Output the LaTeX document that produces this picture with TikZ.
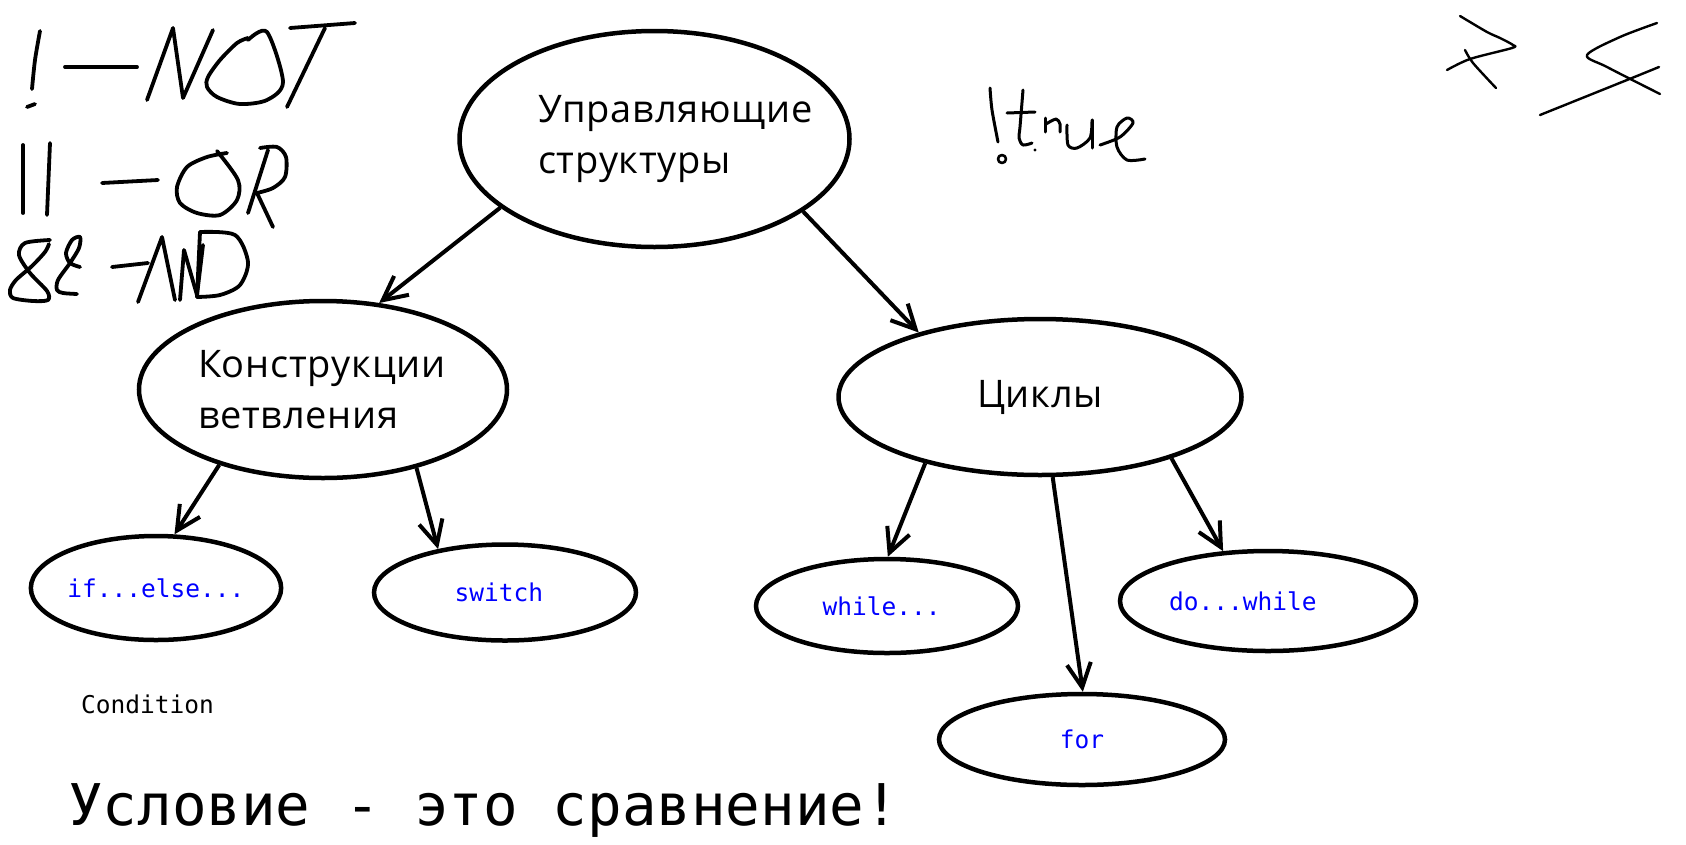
\documentclass[tikz,border=0pt]{standalone}
\usepackage{fontspec}
\setmonofont{DejaVu Sans Mono}
\newfontfamily\labfont[LetterSpace=2]{Open Sans}
\usepackage{tikz}
\usetikzlibrary{arrows.meta,shapes.geometric}
\definecolor{codeBlue}{RGB}{0,0,255}

\begin{document}
\begin{tikzpicture}[
      x=1pt, y=-1pt,
      >={Straight Barb[length=24pt,width=24pt]},
      bubble/.style={ellipse, draw=black, line width=4.5pt, inner sep=0pt, align=left,
                     font=\labfont\fontsize{38}{51}\selectfont},
      codebubble/.style={ellipse, draw=black, line width=4.5pt, inner sep=0pt, text=codeBlue,
                         font=\ttfamily\fontsize{24.5}{28}\selectfont},
      link/.style={->, line width=4pt},
      scribble/.style={line width=3.8pt, line cap=round, line join=round},
      thinscribble/.style={scribble, line width=2.4pt},
      note/.style={anchor=base west, inner sep=0pt}
    ]

    \fill[white] (0,0) rectangle (1686,844);
    \useasboundingbox (0,0) rectangle (1686,844);

    % -------- TREE --------
    \node[bubble, minimum width=390pt, minimum height=216pt, text width=233pt] (ctrl) at (654.5,139) {Управляющие\\структуры};
    \node[bubble, minimum width=368pt, minimum height=177pt, text width=250pt] (branch) at (323,389.5) {Конструкции\\ветвления};
    \node[bubble, minimum width=403pt, minimum height=156pt] (loops) at (1040,397) {Циклы};

    \node[codebubble, minimum width=250pt, minimum height=104pt] (ifelse) at (156,588) {if...else...};
    \node[codebubble, minimum width=262pt, minimum height=96pt, text width=101pt, align=left] (switch) at (505,592.5) {switch};
    \node[codebubble, minimum width=262pt, minimum height=94pt, text width=129pt, align=left] (while) at (887,606) {while...};
    \node[codebubble, minimum width=296pt, minimum height=100pt, text width=198pt, align=left] (dowhile) at (1268,601) {do...while};
    \node[codebubble, minimum width=286pt, minimum height=91pt] (forloop) at (1082,739.5) {for};

    \draw[link] (ctrl.204) -- (branch.57);
    \draw[link] (ctrl.334) -- (loops.152);
    \draw[link] (branch.216) -- (ifelse.71);
    \draw[link] (branch.320) -- (switch.147);
    \draw[link] (loops.210) -- (while.89);
    \draw[link] (loops.279) -- (forloop.89);
    \draw[link] (loops.335) -- (dowhile.132);

    % -------- TEXT --------
    \node[note, font=\ttfamily\fontsize{24.5}{28}\selectfont] (cond) at (81,713) {Condition};
    \node[note, font=\ttfamily\fontsize{57.5}{60}\selectfont] (rule) at (68,825) {Условие - это сравнение!};

    % -------- HANDWRITING, top left --------
    % ! -- NOT
    \draw[scribble] plot[smooth] coordinates {(40,31) (35,60) (32,89)};
    \draw[scribble] (27,107) -- (35,104);
    \draw[scribble] (65,67) -- (137,67);
    \draw[scribble] (147,100) -- (173,28) -- (183,98) -- (213,30);
    \draw[scribble] plot[smooth] coordinates {(248,40) (267,32) (283,82) (267,100) (240,104) (217,97) (207,87) (208,77) (220,60) (237,43) (248,38)};
    \draw[scribble] (290,28) -- (355,23);
    \draw[scribble] (325,28) -- (287,107);
    % || -- OR
    \draw[scribble] (23,145) -- (23,213);
    \draw[scribble] (50,143) -- (47,215);
    \draw[scribble] (102,183) -- (158,180);
    \draw[scribble] plot[smooth] coordinates {(217,151) (238,180) (237,200) (220,215) (197,213) (180,203) (177,187) (187,167) (207,157) (227,153)};
    \draw[scribble] (268,150) -- (248,213);
    \draw[scribble] plot[smooth] coordinates {(260,148) (277,147) (286,157) (285,177) (273,188) (257,193)};
    \draw[scribble] (257,193) -- (273,227);
    % && -- AND
    \draw[scribble] plot[smooth] coordinates {(50,240) (25,243) (19,255) (30,273) (47,291) (48,300) (33,301) (13,298) (10,290) (16,280) (32,266) (45,252) (49,244)};
    \draw[scribble] plot[smooth] coordinates {(80,267) (70,263) (66,253) (72,240) (80,237) (79,248) (70,263) (58,280) (57,290) (63,293) (77,294)};
    \draw[scribble] (112,267) -- (148,263);
    \draw[scribble] (138,302) -- (162,237) -- (175,300);
    \draw[scribble] (180,300) -- (184,250) -- (197,295) -- (203,245);
    \draw[scribble] (200,232) -- (197,297);
    \draw[scribble] plot[smooth] coordinates {(200,232) (235,235) (248,262) (240,285) (220,295) (197,297)};

    % -------- HANDWRITING, middle --------
    \draw[scribble, line width=3pt] plot[smooth] coordinates {(990,88) (992,110) (998,142)};
    \draw[scribble, line width=2.6pt] (1002,159) circle (4);
    \draw[scribble, line width=3pt] plot[smooth] coordinates {(1023,90) (1020,127) (1019,138) (1023,145) (1032,143)};
    \draw[scribble, line width=3pt] (1007,113) -- (1035,112);
    \fill (1035,150) circle (1.6);
    \draw[scribble, line width=3pt] (1045,118) -- (1045,132);
    \draw[scribble, line width=3pt] plot[smooth] coordinates {(1046,124) (1056,119) (1060,124) (1060,132)};
    \draw[scribble, line width=3pt] plot[smooth] coordinates {(1067,125) (1068,145) (1077,148) (1090,138) (1092,120)};
    \draw[scribble, line width=3pt] (1092,120) -- (1092,148);
    \draw[scribble, line width=3pt] plot[smooth] coordinates {(1100,145) (1120,137) (1133,123) (1127,118) (1117,127) (1117,147) (1127,160) (1145,159)};

    % -------- HANDWRITING, top right --------
    \draw[thinscribble] plot[smooth] coordinates {(1460,16) (1487,32) (1500,38) (1513,45) (1512,48) (1470,59) (1447,70)};
    \draw[thinscribble] plot[smooth] coordinates {(1465,50) (1473,63) (1496,88)};
    \draw[thinscribble] plot[smooth] coordinates {(1657,23) (1620,37) (1587,55) (1607,67) (1660,94)};
    \draw[thinscribble] plot[smooth] coordinates {(1659,67) (1627,80) (1540,115)};

\end{tikzpicture}
\end{document}
